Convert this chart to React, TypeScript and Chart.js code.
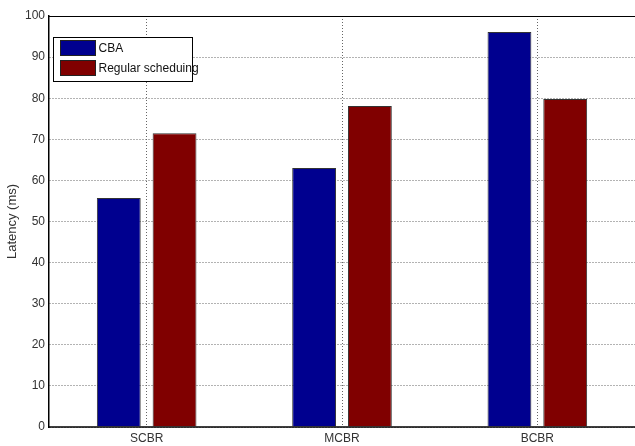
import React, { useEffect, useRef } from "react";
import { Chart, registerables } from "chart.js";

Chart.register(...registerables);

const categories = ["SCBR", "MCBR", "BCBR"];
const cbaValues = [55.7, 63.0, 96.1];
const regularValues = [71.5, 78.1, 79.8];
const seriesLabels = ["CBA", "Regular scheduing"];
const seriesColors = ["#00008f", "#800000"];

const FONT = "'Liberation Sans', Arial, sans-serif";

const boxPlugin = {
  id: "boxAndLegend",
  afterDraw(chart: any) {
    const { ctx, chartArea } = chart;
    ctx.save();
    ctx.strokeStyle = "#000";
    ctx.lineWidth = 1;
    ctx.beginPath();
    ctx.moveTo(chartArea.left, chartArea.top + 0.5);
    ctx.lineTo(chartArea.right, chartArea.top + 0.5);
    ctx.stroke();
    ctx.beginPath();
    ctx.lineWidth = 1.5;
    ctx.moveTo(chartArea.left, chartArea.bottom);
    ctx.lineTo(chartArea.right, chartArea.bottom);
    ctx.stroke();
    // legend
    const lx = chartArea.left + 4.5;
    const ly = chartArea.top + 21.5;
    const lw = 139;
    const lh = 44;
    ctx.fillStyle = "#fff";
    ctx.fillRect(lx, ly, lw, lh);
    ctx.lineWidth = 1;
    ctx.strokeStyle = "#000";
    ctx.strokeRect(lx, ly, lw, lh);
    ctx.font = "12px " + FONT;
    ctx.textBaseline = "middle";
    chart.data.datasets.forEach((ds: any, i: number) => {
      const sy = ly + 3 + i * 20;
      ctx.fillStyle = ds.backgroundColor;
      ctx.fillRect(lx + 7, sy, 35, 15);
      ctx.strokeStyle = "#222";
      ctx.strokeRect(lx + 7, sy, 35, 15);
      ctx.fillStyle = "#111";
      ctx.fillText(ds.label, lx + 45, sy + 8);
    });
    ctx.restore();
  },
};

export default function App() {
  const ref = useRef<HTMLCanvasElement>(null);
  useEffect(() => {
    if (!ref.current) return;
    const chart = new Chart(ref.current, {
      type: "bar",
      data: {
        labels: categories,
        datasets: [
          {
            label: seriesLabels[0],
            data: cbaValues,
            backgroundColor: seriesColors[0],
            borderColor: "#333",
            borderWidth: 1,
          },
          {
            label: seriesLabels[1],
            data: regularValues,
            backgroundColor: seriesColors[1],
            borderColor: "#333",
            borderWidth: 1,
          },
        ],
      },
      options: {
        animation: false,
        responsive: false,
        maintainAspectRatio: false,
        datasets: { bar: { categoryPercentage: 0.571, barPercentage: 0.786 } },
        layout: { padding: { top: 16, right: -2, left: 0, bottom: 0 } },
        plugins: { legend: { display: false }, tooltip: { enabled: false } },
        scales: {
          x: {
            grid: {
              offset: false,
              color: "#666",
              lineWidth: 1,
              drawTicks: false,
            },
            border: { display: false, dash: [1, 2] },
            ticks: { color: "#333", font: { size: 12, family: FONT }, padding: 4 },
            afterFit: (s: any) => { s.height = 19; },
          },
          y: {
            min: 0,
            max: 100,
            ticks: { stepSize: 10, color: "#333", font: { size: 12, family: FONT }, padding: 4 },
            grid: { color: "#666", lineWidth: 1, drawTicks: false },
            border: { display: true, color: "#000", width: 1.5, dash: [1, 2] },
            title: {
              display: true,
              text: "Latency (ms)",
              color: "#333",
              font: { size: 13, family: FONT },
              padding: { top: 5, bottom: 4 },
            },
            afterFit: (s: any) => { s.width = 49; },
          },
        },
      },
      plugins: [boxPlugin],
    });
    return () => chart.destroy();
  }, []);
  return (
    <div style={{ position: "fixed", left: 0, top: 0, width: 635, height: 446, background: "#fff" }}>
      <canvas ref={ref} width={635} height={446} />
    </div>
  );
}
